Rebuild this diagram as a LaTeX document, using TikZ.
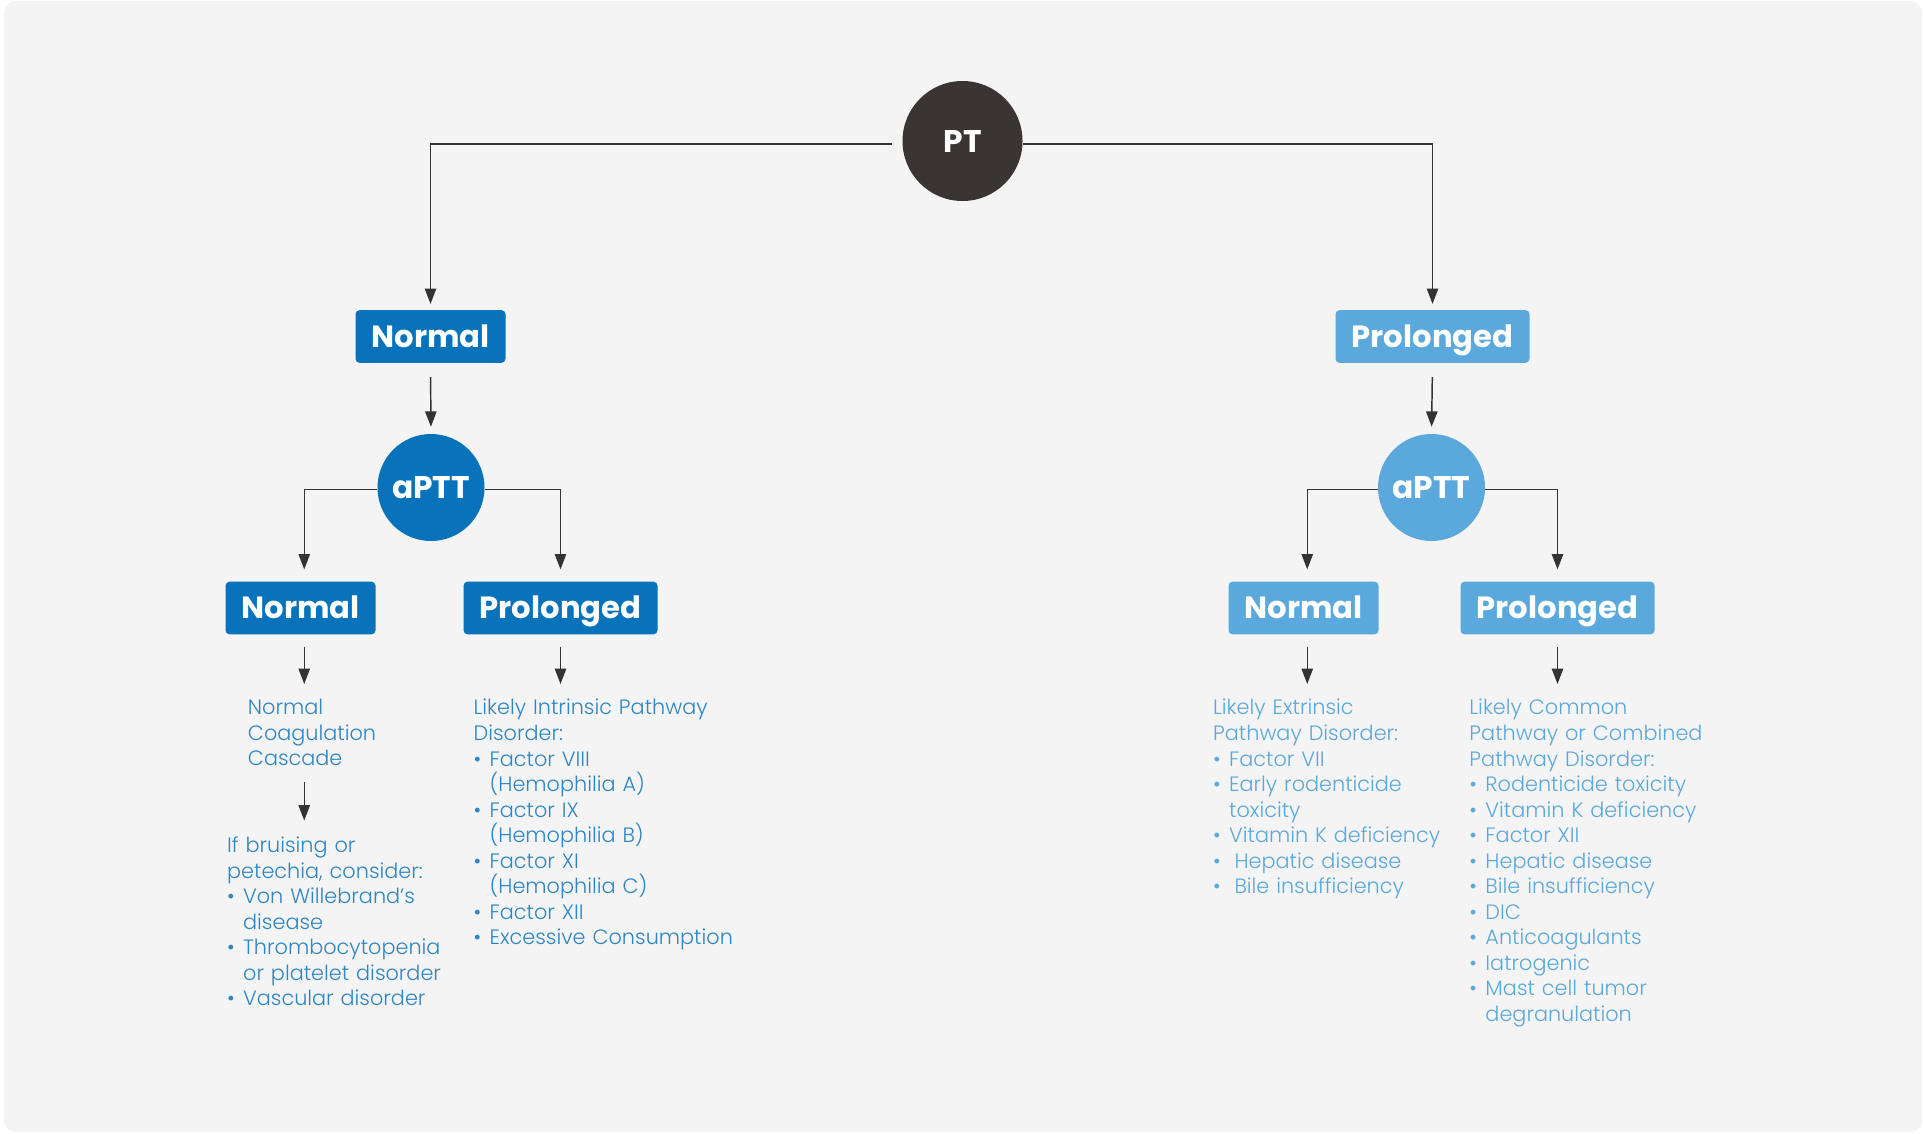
\documentclass[tikz,border=0pt]{standalone}
\usepackage{fontspec}
\setmainfont{Poppins}
\newfontfamily\lightf{Poppins Light}
\usetikzlibrary{arrows.meta}
\definecolor{bggray}{HTML}{F3F4F3}
\definecolor{ptdark}{HTML}{3A3532}
\definecolor{dblue}{HTML}{0873BB}
\definecolor{lblue}{HTML}{5BA9DC}
\definecolor{ltxt}{HTML}{2E86C6}
\definecolor{rtxt}{HTML}{5BA8DC}
\definecolor{arrc}{HTML}{333333}
\newcommand\bul[1]{\makebox[#1][l]{•}}
\begin{document}
\begin{tikzpicture}[x=0.75pt,y=-0.75pt,
  circ/.style={circle,inner sep=0pt,text=white,text height=16.5pt,text depth=0pt,font=\bfseries\fontsize{23.5pt}{28pt}\selectfont},
  bbox/.style={rounded corners=3pt,inner sep=0pt,minimum height=39.5pt,text height=16.2pt,text depth=0pt,text=white,font=\bfseries\fontsize{23pt}{28pt}\selectfont},
  wnorm/.style={minimum width=112.5pt},
  wprol/.style={minimum width=145.5pt},
  txt/.style={anchor=north west,inner sep=0pt,text width=250pt,align=left,font=\lightf\fontsize{15.6pt}{19.16pt}\selectfont},
  arr/.style={draw=arrc,line width=1.1pt,-{Triangle[width=8.5pt,length=11.5pt]}}
]
\fill[white] (0,0) rectangle (1923,1133);
\fill[bggray,rounded corners=9pt] (4,1) rectangle (1922,1132);
\useasboundingbox (0,0) rectangle (1923,1133);

% circles
\node[circ,fill=ptdark,minimum size=90pt] (pt) at (962.5,141) {PT};
\node[circ,fill=dblue,minimum size=80.25pt] (a1) at (431,487.5) {aPTT};
\node[circ,fill=lblue,minimum size=80.25pt] (a2) at (1431.5,487.5) {aPTT};

% boxes
\node[bbox,wnorm,fill=dblue] (n1) at (430.5,336.5) {Normal};
\node[bbox,wprol,fill=lblue] (p1) at (1432.5,336.5) {Prolonged};
\node[bbox,wnorm,fill=dblue] (nl) at (300.5,608) {Normal};
\node[bbox,wprol,fill=dblue] (pl) at (560.5,608) {Prolonged};
\node[bbox,wnorm,fill=lblue] (nr) at (1303.5,608) {Normal};
\node[bbox,wprol,fill=lblue] (pr) at (1557.5,608) {Prolonged};

% texts
\node[txt,text=ltxt] (t1) at (247.7,699) {Normal\\Coagulation\\Cascade};
\node[txt,text=ltxt] (t2) at (226.9,836.5) {If bruising or\\petechia, consider:\\\bul{12pt}Von Willebrand’s\\\hspace*{12pt}disease\\\bul{12pt}Thrombocytopenia\\\hspace*{12pt}or platelet disorder\\\bul{12pt}Vascular disorder};
\node[txt,text=ltxt] (t3) at (473.4,699) {Likely Intrinsic Pathway\\Disorder:\\\bul{12pt}Factor VIII\\\hspace*{12pt}(Hemophilia A)\\\bul{12pt}Factor IX\\\hspace*{12pt}(Hemophilia B)\\\bul{12pt}Factor XI\\\hspace*{12pt}(Hemophilia C)\\\bul{12pt}Factor XII\\\bul{12pt}Excessive Consumption};
\node[txt,text=rtxt] (t4) at (1212.9,699) {Likely Extrinsic\\Pathway Disorder:\\\bul{12pt}Factor VII\\\bul{12pt}Early rodenticide\\\hspace*{12pt}toxicity\\\bul{12pt}Vitamin K deficiency\\\bul{16pt}Hepatic disease\\\bul{16pt}Bile insufficiency};
\node[txt,text=rtxt] (t5) at (1469.2,699) {Likely Common\\Pathway or Combined\\Pathway Disorder:\\\bul{12pt}Rodenticide toxicity\\\bul{12pt}Vitamin K deficiency\\\bul{12pt}Factor XII\\\bul{12pt}Hepatic disease\\\bul{12pt}Bile insufficiency\\\bul{12pt}DIC\\\bul{12pt}Anticoagulants\\\bul{12pt}Iatrogenic\\\bul{12pt}Mast cell tumor\\\hspace*{12pt}degranulation};

% connectors
\draw[arr,shorten <=7.5pt,shorten >=4.5pt] ([yshift=-2.25pt]pt.west) -| (n1.north);
\draw[arr,shorten >=4.5pt] ([yshift=-2.25pt]pt.east) -| (p1.north);
\draw[arr,shorten <=10.5pt,shorten >=5.25pt] (n1.south) -- (a1.north);
\draw[arr,shorten <=10.5pt,shorten >=5.25pt] (p1.south) -- (a2.north);
\draw[arr,shorten >=9pt] ([yshift=-1.5pt]a1.west) -| ([xshift=2.8pt]nl.north);
\draw[arr,shorten >=9pt] ([yshift=-1.5pt]a1.east) -| (pl.north);
\draw[arr,shorten >=9pt] ([yshift=-1.5pt]a2.west) -| ([xshift=2.8pt]nr.north);
\draw[arr,shorten >=9pt] ([yshift=-1.5pt]a2.east) -| (pr.north);
\draw[arr,shorten <=9pt,shorten >=11.25pt] ([xshift=2.8pt]nl.south) -- ([xshift=2.8pt]nl.south |- t1.north);
\draw[arr,shorten <=9pt,shorten >=11.25pt] (pl.south) -- (pl.south |- t3.north);
\draw[arr,shorten <=9pt,shorten >=11.25pt] ([xshift=2.8pt]nr.south) -- ([xshift=2.8pt]nr.south |- t4.north);
\draw[arr,shorten <=9pt,shorten >=11.25pt] (pr.south) -- (pr.south |- t5.north);
\draw[arr,shorten <=12pt,shorten >=12pt] ([xshift=2.8pt]t1.south -| nl.south) -- ([xshift=2.8pt]nl.south |- t2.north);
\end{tikzpicture}
\end{document}
